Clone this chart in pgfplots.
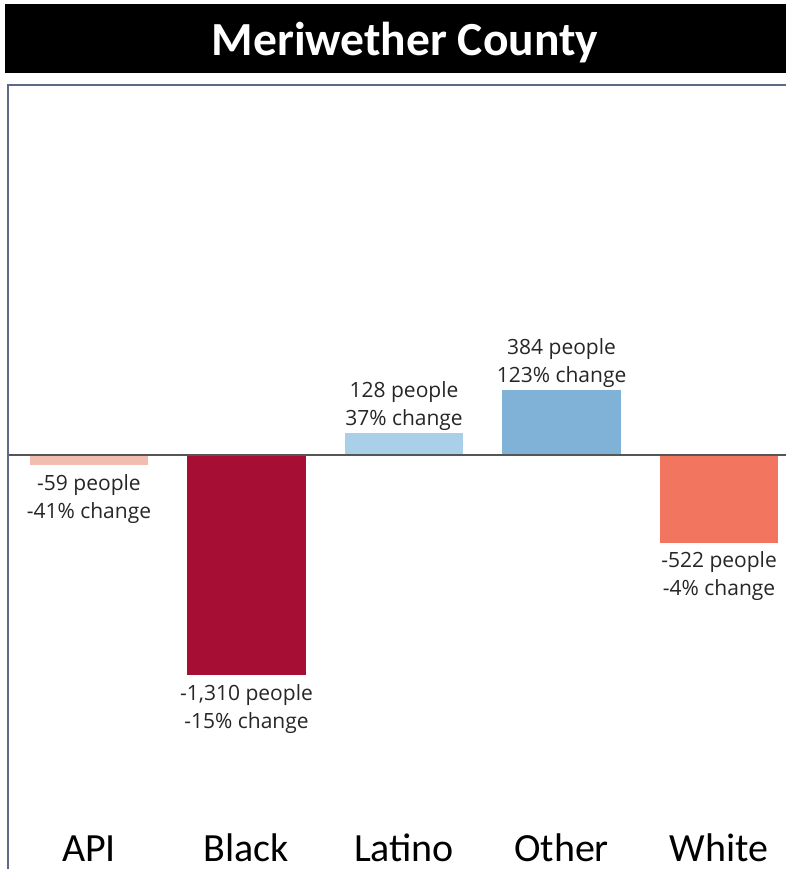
\documentclass[border=0pt]{standalone}
\usepackage{fontspec}
\setmainfont{Open Sans}
\newfontfamily\carl{Carlito}
\usepackage{pgfplots}
\pgfplotsset{compat=1.18}
\definecolor{apicol}{RGB}{241,189,174}
\definecolor{blackcol}{RGB}{166,14,52}
\definecolor{latcol}{RGB}{170,207,232}
\definecolor{othcol}{RGB}{128,178,215}
\definecolor{whicol}{RGB}{242,117,96}
\definecolor{framecol}{RGB}{92,106,135}
\definecolor{zerocol}{RGB}{85,85,85}
\begin{document}
\begin{tikzpicture}
\useasboundingbox (0,0) rectangle (786bp,869bp);
\fill[black] (5bp,796bp) rectangle (786bp,865bp);
\node[text=white,font=\carl\bfseries\fontsize{47.5bp}{50bp}\selectfont] at (405bp,826bp) {Meriwether County};
\begin{axis}[at={(8bp,0bp)}, anchor=south west, scale only axis, width=778bp, height=784bp,
 xmin=-0.514, xmax=4.425, ymin=-2464, ymax=2202,
 axis line style={draw=none}, ytick=\empty, xtick={0,1,2,3,4},
 xticklabels={API,Black,Latino,Other,White}, major tick length=0pt,
 xticklabel style={font=\carl\fontsize{40bp}{42bp}\selectfont, anchor=base, inner sep=0pt, yshift=8bp},
 ybar, bar width=0.75, bar shift=0pt, clip=false,
 nodes near coords, point meta=explicit symbolic,
 every node near coord/.append style={font=\fontsize{21bp}{28bp}\selectfont, align=center, text=black!85, inner sep=3bp},
 neg/.style={every node near coord/.append style={anchor=north, yshift=-6bp}},
 pos/.style={every node near coord/.append style={anchor=south}},
]
\addplot[fill=apicol, draw=none, neg] coordinates {(0,-59) [{-59 people\\-41\% change}]};
\addplot[fill=blackcol, draw=none, neg] coordinates {(1,-1310) [{-1,310 people\\-15\% change}]};
\addplot[fill=latcol, draw=none, pos] coordinates {(2,128) [{128 people\\37\% change}]};
\addplot[fill=othcol, draw=none, pos] coordinates {(3,384) [{384 people\\123\% change}]};
\addplot[fill=whicol, draw=none, neg] coordinates {(4,-522) [{-522 people\\-4\% change}]};
\draw[zerocol, line width=2bp] (axis cs:-0.514,0) -- (axis cs:4.425,0);
\draw[framecol, line width=2bp] (rel axis cs:0,0) -- (rel axis cs:0,1) -- (rel axis cs:1,1);
\end{axis}
\end{tikzpicture}
\end{document}
